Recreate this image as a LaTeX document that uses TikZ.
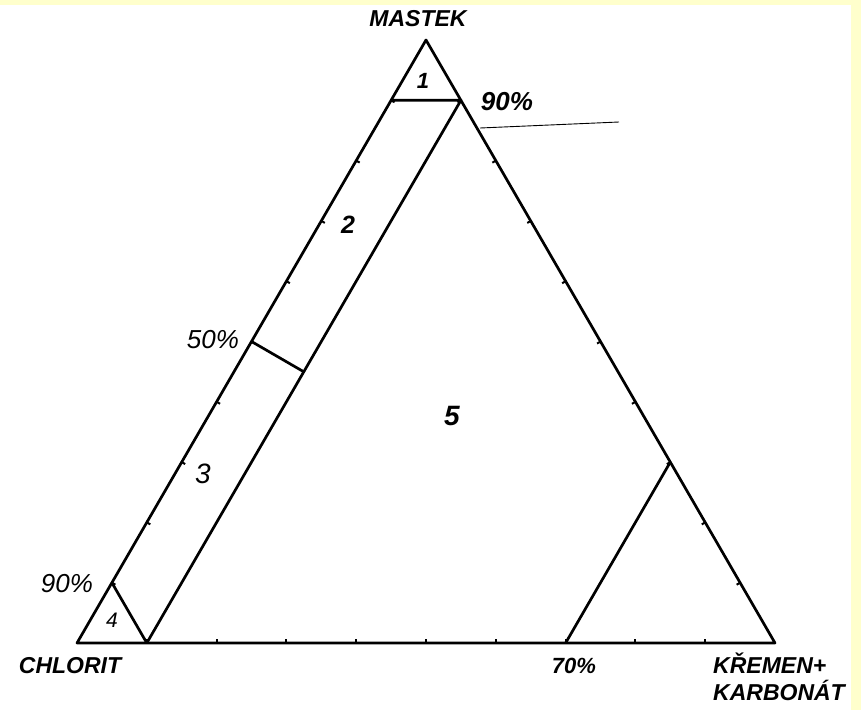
\documentclass[tikz,border=0pt]{standalone}
\usepackage{fontspec}
\setmainfont{Liberation Sans}
\usepackage{tikz}
\usetikzlibrary{calc}
\definecolor{paper}{HTML}{FFFFCC}

\begin{document}
\begin{tikzpicture}[x=1pt,y=-1pt,line join=round,
  edge/.style={line width=2.7pt},
  tickmark/.style={line width=2pt},
  cornerlbl/.style={font=\fontsize{23}{25}\selectfont\bfseries\itshape,inner sep=0pt,anchor=base},
  pct/.style={font=\fontsize{26}{28}\selectfont\itshape,inner sep=0pt,anchor=base},
  pctbold/.style={font=\fontsize{26}{28}\selectfont\bfseries\itshape,inner sep=0pt,anchor=base},
  fld/.style={font=\fontsize{22}{24}\selectfont\itshape,inner sep=0pt,anchor=base}]
\useasboundingbox (0,0) rectangle (861,710);
% paper
\fill[paper] (0,0) rectangle (861,710);
\fill[white] (0,5) rectangle (851,710);
% corners of the triangle
\coordinate (M) at (426,40);
\coordinate (C) at (77,643);
\coordinate (K) at (775,643);
\draw[edge] (C)--(K)--(M)--cycle;
% 10% ticks, inward
\foreach \t in {0.1,0.2,...,0.95}{
  \coordinate (pb) at ($(C)!\t!(K)$);
  \coordinate (pr) at ($(K)!\t!(M)$);
  \coordinate (pl) at ($(M)!\t!(C)$);
  \draw[tickmark] (pb)--($(pb)!4pt!90:(K)$);
  \draw[tickmark] (pr)--($(pr)!4pt!90:(M)$);
  \draw[tickmark] (pl)--($(pl)!4pt!90:(C)$);
}
% field boundaries
\coordinate (m90L) at ($(C)!0.9!(M)$);
\coordinate (m90R) at ($(K)!0.9!(M)$);
\coordinate (q10) at ($(C)!0.1!(K)$);
\coordinate (m50) at ($(C)!0.5!(M)$);
\coordinate (m50R) at ($(q10)!(m50)!(m90R)$);
\coordinate (c90) at ($(C)!0.1!(M)$);
\coordinate (q70) at ($(C)!0.7!(K)$);
\coordinate (r70) at ($(K)!0.3!(M)$);
\draw[edge] (m90L)--(m90R)--(q10);
\draw[edge] (m50)--(m50R);
\draw[edge] (c90)--(q10);
\draw[edge] (q70)--(r70);
% stray pen stroke
\coordinate (s1) at (480,128);
\coordinate (s2) at (619,122);
\draw[line width=0.9pt] (s1)--(s2);
% corner names
\node[cornerlbl] (mastek) at (418,26) {MASTEK};
\node[cornerlbl] (chlorit) at (70,673) {CHLORIT};
\node[cornerlbl,anchor=base west] (kremen) at (713,673) {KŘEMEN+};
\node[cornerlbl,anchor=base west] (karbonat) at (713,700) {KARBONÁT};
% percent marks
\node[pctbold] (p90top) at (507,110) {90\%};
\node[pct] (p50) at (213,348) {50\%};
\node[pct] (p90left) at (67,592) {90\%};
\node[cornerlbl,font=\fontsize{22}{24}\selectfont\bfseries\itshape] (p70) at (574,673) {70\%};
% fields
\node[fld,font=\fontsize{22}{24}\selectfont\bfseries\itshape] (f1) at (423,88) {1};
\node[fld,font=\fontsize{25}{27}\selectfont\bfseries\itshape] (f2) at (348,233) {2};
\node[fld,font=\fontsize{28}{30}\selectfont\itshape] (f3) at (203,483) {3};
\node[fld,font=\fontsize{21}{23}\selectfont\itshape] (f4) at (112,627) {4};
\node[fld,font=\fontsize{28}{30}\selectfont\bfseries\itshape] (f5) at (452,425) {5};
\end{tikzpicture}
\end{document}
